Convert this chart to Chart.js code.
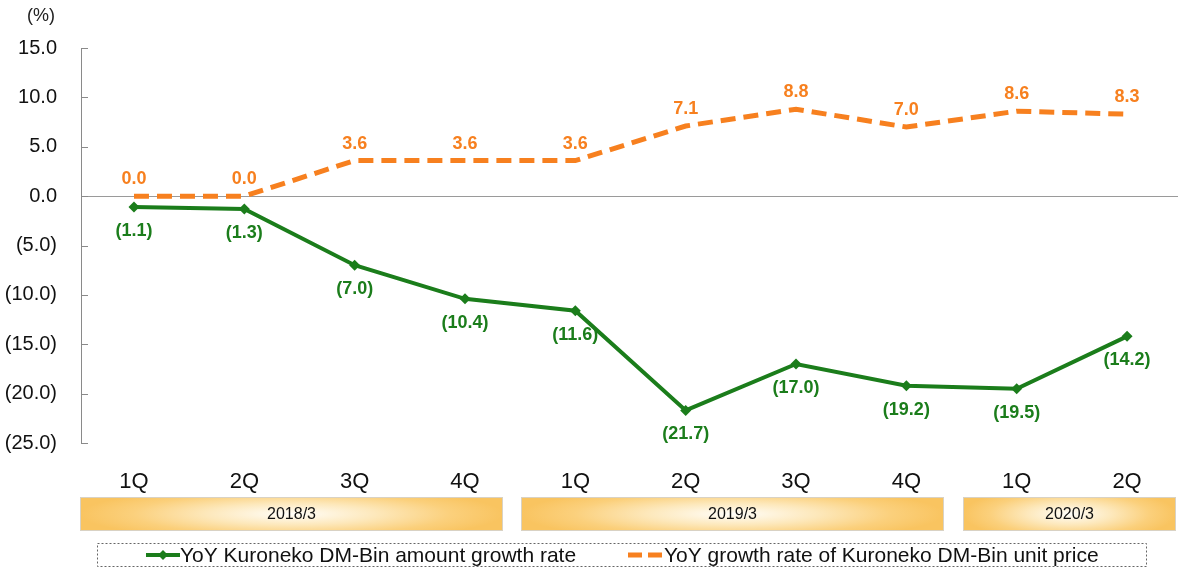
<!DOCTYPE html>
<html>
<head>
<meta charset="utf-8">
<script src="https://cdn.jsdelivr.net/npm/chart.js@4/dist/chart.umd.min.js"></script>
<style>
  html, body { margin: 0; padding: 0; background: #fff; }
  #wrap { width: 1180px; height: 571px; position: relative; }
</style>
</head>
<body>
<div id="wrap"><canvas id="myChart"></canvas></div>
<script>
const quarters = ['1Q', '2Q', '3Q', '4Q', '1Q', '2Q', '3Q', '4Q', '1Q', '2Q'];
const fiscalYears = ['2018/3', '2019/3', '2020/3'];
const yearRanges = [[0, 3], [4, 7], [8, 9]];
const amountGrowth = [-1.1, -1.3, -7.0, -10.4, -11.6, -21.7, -17.0, -19.2, -19.5, -14.2];
const unitPriceGrowth = [0.0, 0.0, 3.6, 3.6, 3.6, 7.1, 8.8, 7.0, 8.6, 8.3];
const yTicks = [15, 10, 5, 0, -5, -10, -15, -20, -25];

const GREEN = '#1b7d1b';
const ORANGE = '#f7801f';
const FONT = '"Liberation Sans", Arial, sans-serif';

function fmt(v) {
    const s = Math.abs(v).toFixed(1);
    return v < 0 ? '(' + s + ')' : s;
}

const decorations = {
    id: 'decorations',
    beforeDatasetsDraw(chart) {
        const ctx = chart.ctx;
        const area = chart.chartArea;
        const y = chart.scales.y;
        ctx.save();
        // zero line
        ctx.strokeStyle = '#9a9a9a';
        ctx.lineWidth = 1;
        ctx.beginPath();
        ctx.moveTo(area.left, Math.round(y.getPixelForValue(0)) + 0.5);
        ctx.lineTo(1178, Math.round(y.getPixelForValue(0)) + 0.5);
        ctx.stroke();
        // y axis line and inward ticks
        ctx.strokeStyle = '#8a8a8a';
        ctx.beginPath();
        ctx.moveTo(area.left - 0.5, area.top);
        ctx.lineTo(area.left - 0.5, area.bottom);
        yTicks.forEach(t => {
            const py = Math.round(y.getPixelForValue(t)) + 0.5;
            ctx.moveTo(area.left - 1, py);
            ctx.lineTo(area.left + 6, py);
        });
        ctx.stroke();
        ctx.restore();
    },
    afterDraw(chart) {
        const ctx = chart.ctx;
        const x = chart.scales.x;
        ctx.save();
        // unit label
        ctx.fillStyle = '#222';
        ctx.font = '18px ' + FONT;
        ctx.textAlign = 'center';
        ctx.textBaseline = 'middle';
        ctx.fillText('(%)', 41, 16);

        // data labels
        ctx.font = 'bold 18px ' + FONT;
        const m0 = chart.getDatasetMeta(0);
        ctx.fillStyle = GREEN;
        m0.data.forEach((pt, i) => {
            ctx.fillText(fmt(amountGrowth[i]), pt.x, pt.y + 24);
        });
        const m1 = chart.getDatasetMeta(1);
        ctx.fillStyle = ORANGE;
        m1.data.forEach((pt, i) => {
            ctx.fillText(fmt(unitPriceGrowth[i]), pt.x, pt.y - 17);
        });

        // fiscal year bands
        const top = 497, h = 34;
        fiscalYears.forEach((label, k) => {
            const x0 = Math.round(x.getPixelForValue(yearRanges[k][0] - 0.49));
            const last = k === fiscalYears.length - 1;
            const x1 = last ? 1176 : Math.round(x.getPixelForValue(yearRanges[k][1] + 0.34));
            const w = x1 - x0;
            const cx = x0 + w / 2, cy = top + h / 2;
            ctx.save();
            ctx.beginPath();
            ctx.rect(x0, top, w, h);
            ctx.clip();
            ctx.translate(cx, cy);
            ctx.scale(w / 2, h / 2 * 1.6);
            const g = ctx.createRadialGradient(0, 0, 0, 0, 0, 1);
            g.addColorStop(0, '#fffefa');
            g.addColorStop(0.4, '#fde8bb');
            g.addColorStop(0.75, '#fbd07c');
            g.addColorStop(1, '#f9c460');
            ctx.fillStyle = g;
            ctx.fillRect(-1, -1, 2, 2);
            ctx.restore();
            ctx.strokeStyle = '#d9d2c4';
            ctx.lineWidth = 1;
            ctx.strokeRect(x0 + 0.5, top + 0.5, w - 1, h - 1);
            ctx.fillStyle = '#111';
            ctx.font = '16px ' + FONT;
            ctx.fillText(label, cx, cy + 1);
        });

        // legend
        ctx.strokeStyle = '#666';
        ctx.lineWidth = 1;
        ctx.setLineDash([2, 2]);
        ctx.strokeRect(97.5, 543.5, 1049, 23);
        ctx.setLineDash([]);
        const ly = 555;
        ctx.strokeStyle = GREEN;
        ctx.lineWidth = 4;
        ctx.beginPath();
        ctx.moveTo(146, ly);
        ctx.lineTo(180, ly);
        ctx.stroke();
        ctx.fillStyle = GREEN;
        ctx.beginPath();
        ctx.moveTo(163, ly - 5);
        ctx.lineTo(168, ly);
        ctx.lineTo(163, ly + 5);
        ctx.lineTo(158, ly);
        ctx.closePath();
        ctx.fill();
        ctx.strokeStyle = ORANGE;
        ctx.lineWidth = 5;
        ctx.setLineDash([14, 6]);
        ctx.beginPath();
        ctx.moveTo(628, ly);
        ctx.lineTo(662, ly);
        ctx.stroke();
        ctx.setLineDash([]);
        ctx.fillStyle = '#111';
        ctx.font = '21px ' + FONT;
        ctx.textAlign = 'left';
        ctx.fillText('YoY Kuroneko DM-Bin amount growth rate', 180, ly + 1);
        ctx.fillText('YoY growth rate of Kuroneko DM-Bin unit price', 664, ly + 1);
        ctx.restore();
    }
};

const ctx = document.getElementById('myChart').getContext('2d');
const myChart = new Chart(ctx, {
    type: 'line',
    data: {
        datasets: [{
            label: 'YoY Kuroneko DM-Bin amount growth rate',
            data: amountGrowth.map((v, i) => ({ x: i, y: v })),
            borderColor: GREEN,
            backgroundColor: GREEN,
            borderWidth: 4,
            pointStyle: 'rectRot',
            pointRadius: 5.5,
            pointBorderWidth: 0,
            tension: 0
        }, {
            label: 'YoY growth rate of Kuroneko DM-Bin unit price',
            data: unitPriceGrowth.map((v, i) => ({ x: i, y: v })),
            borderColor: ORANGE,
            backgroundColor: ORANGE,
            borderWidth: 5,
            borderDash: [15, 8],
            pointRadius: 0,
            tension: 0
        }]
    },
    options: {
        responsive: true,
        maintainAspectRatio: false,
        animation: false,
        layout: { padding: { top: 48, right: 0, bottom: 0, left: 0 } },
        plugins: {
            legend: { display: false },
            tooltip: { enabled: false }
        },
        scales: {
            x: {
                type: 'linear',
                min: -0.471,
                max: 9.43,
                afterBuildTicks: scale => { scale.ticks = quarters.map((q, i) => ({ value: i })); },
                afterFit: scale => { scale.height = 128; },
                border: { display: false },
                grid: { display: false },
                ticks: {
                    autoSkip: false,
                    maxRotation: 0,
                    padding: 18,
                    color: '#111',
                    font: { family: FONT, size: 22 },
                    callback: v => quarters[v]
                }
            },
            y: {
                min: -25,
                max: 15,
                afterBuildTicks: scale => { scale.ticks = yTicks.map(v => ({ value: v })); },
                afterFit: scale => { scale.width = 82; },
                border: { display: false },
                grid: { display: false },
                ticks: {
                    padding: 17,
                    color: '#111',
                    font: { family: FONT, size: 20 },
                    callback: v => fmt(v)
                }
            }
        }
    },
    plugins: [decorations]
});
</script>
</body>
</html>
